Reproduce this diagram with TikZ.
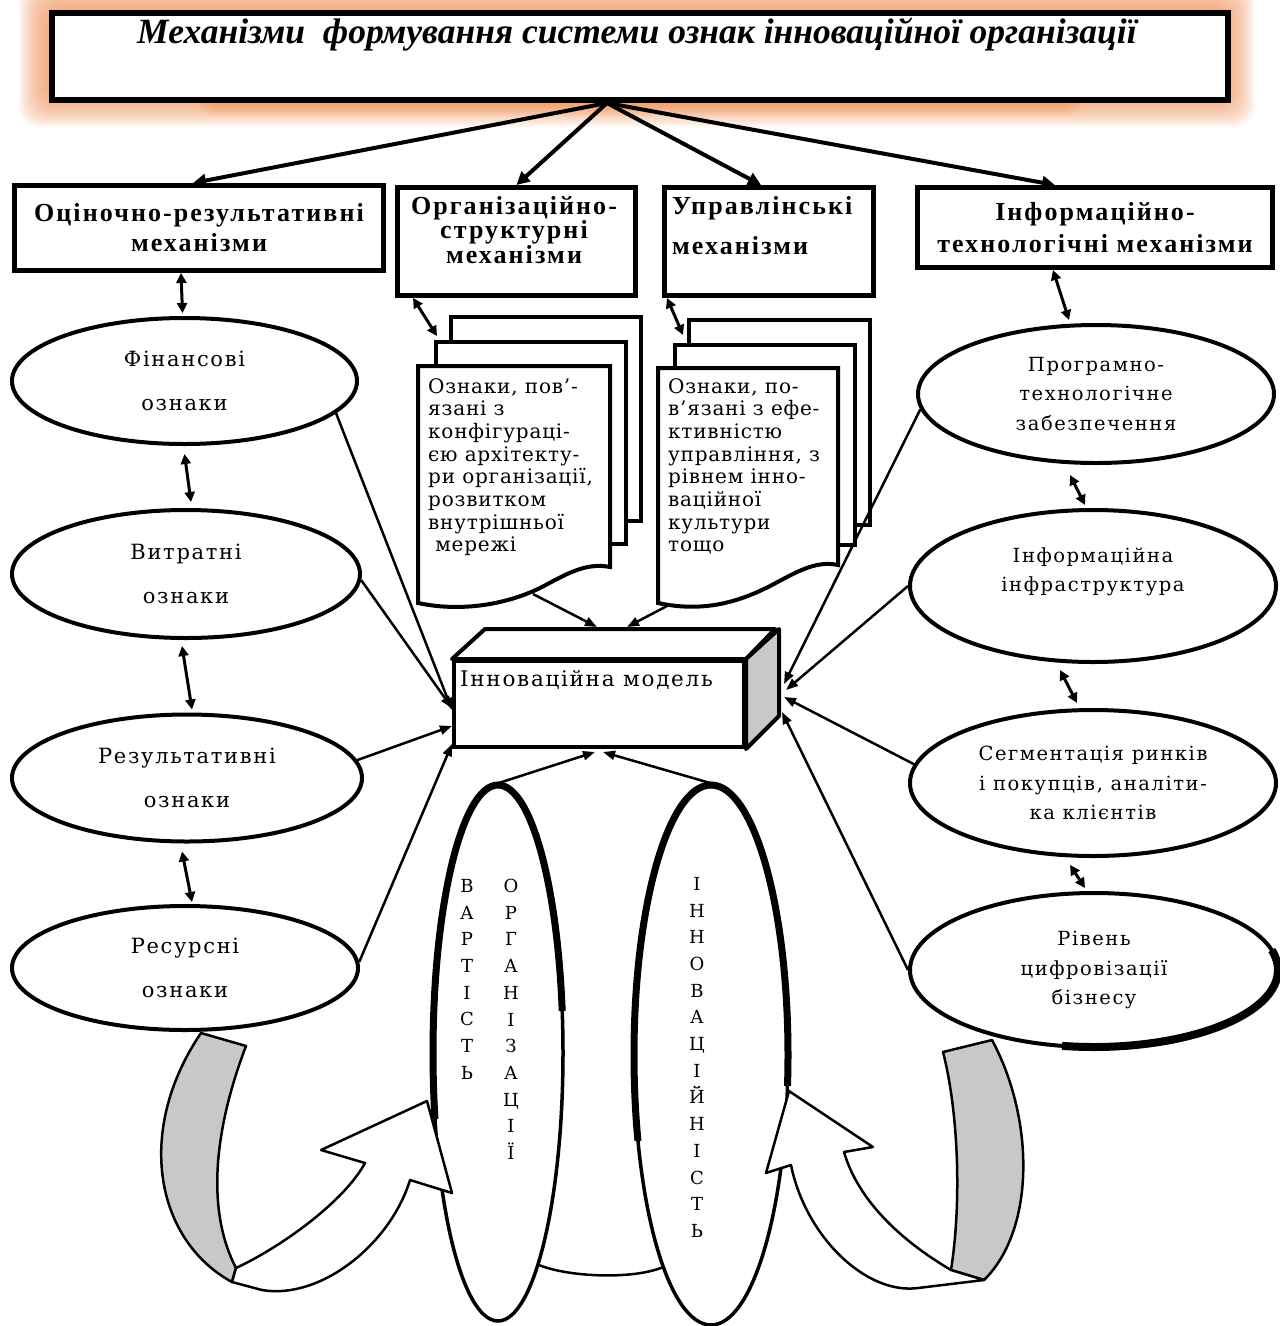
\documentclass[tikz,border=0pt]{standalone}
\usepackage{fontspec}
\setmainfont{Liberation Serif}
\newfontfamily\mechfont[LetterSpace=8]{Liberation Serif}
\newfontfamily\ovalfont[LetterSpace=8]{DejaVu Serif}
\newfontfamily\signfont[LetterSpace=4]{DejaVu Serif}
\usepackage{tikz}
\usepackage{xcolor}
\usetikzlibrary{shapes.geometric,arrows.meta}
\definecolor{glow}{RGB}{238,140,80}
\definecolor{ribbongray}{RGB}{200,200,200}

\begin{document}
\begin{tikzpicture}[x=1pt, y=-1pt,
	mechbox/.style={rectangle,
		draw=black,
		line width=5pt,
		fill=white,
		inner sep=0pt,
		anchor=north west,
		align=center,
		font=\mechfont\bfseries\fontsize{26}{#1}\selectfont},
	mechtext/.style={inner sep=0pt, font=\mechfont\bfseries\fontsize{26}{#1}\selectfont},
	ovalL/.style={ellipse, draw=black, line width=4pt, fill=white, inner sep=0pt,
		align=center, font=\ovalfont\fontsize{21}{44}\selectfont},
	ovalR/.style={ellipse, draw=black, line width=4pt, fill=white, inner sep=0pt,
		align=center, font=\ovalfont\fontsize{19.5}{29.5}\selectfont},
	tallell/.style={ellipse, draw=black, line width=3.5pt, fill=white, inner sep=0pt},
	page/.style={rectangle, draw=black, line width=4pt, fill=white, inner sep=0pt, anchor=north west},
	pageline/.style={draw=black, line width=4pt, fill=white},
	signtext/.style={anchor=north west, inner sep=0pt, align=left,
		font=\signfont\fontsize{20}{22.7}\selectfont},
	vletters/.style={anchor=north, inner sep=0pt, align=center,
		font=\signfont\fontsize{18}{26.7}\selectfont},
	mecharrow/.style={line width=4pt, -{Triangle[length=13pt,width=13pt]}},
	dbl/.style={line width=3pt, {Triangle[length=10pt,width=10pt]}-{Triangle[length=10pt,width=10pt]}},
	tomodel/.style={line width=2.5pt, -{Triangle[length=12pt,width=9pt]}},
	ribbon/.style={draw=black, line width=2.5pt, line join=round}]

	\useasboundingbox (0,0) rectangle (1280,1326);

	% halo orange autour du titre
	\foreach \g in {2,4,...,30}
		\fill[glow, opacity=0.075, rounded corners=20pt] (49-\g,10-\g) rectangle (1225+\g,97+\g);
	\foreach \g in {2,4,...,16}
		\fill[glow, opacity=0.09, rounded corners=12pt] (215-\g,70) rectangle (1065+\g,100+\g);

	\node[rectangle,
		draw=black,
		line width=6pt,
		fill=white,
		inner sep=0pt,
		anchor=north west,
		minimum width=1176pt,
		minimum height=87pt] (title) at (49,10) {};
	\node[anchor=base, inner sep=0pt, font=\bfseries\itshape\fontsize{35.5}{40}\selectfont] (titletext) at (637,43) {Механізми\ \ формування системи ознак інноваційної організації};

	% les quatre mécanismes
	\node[mechbox=30, minimum width=369pt, minimum height=85pt] (mech1) at (12,183) {Оціночно-результативні\\механізми};
	\node[mechbox=23.5, minimum width=238pt, minimum height=108pt] (mech2) at (395,185) {};
	\node[mechtext=23.5, anchor=north, align=center] (mech2text) at (514,196) {Організаційно-\\структурні\\механізми};
	\node[mechbox=40, minimum width=209pt, minimum height=108pt] (mech3) at (662,185) {};
	\node[mechtext=40, anchor=north west, align=left] (mech3text) at (672,196) {Управлінські\\механізми};
	\node[mechbox=32, minimum width=355pt, minimum height=80pt] (mech4) at (915,185) {Інформаційно-\\технологічні механізми};

	\draw[mecharrow] ([xshift=-33pt]title.south) -- ([xshift=-6pt]mech1.north);
	\draw[mecharrow] ([xshift=-33pt]title.south) -- (mech2.north);
	\draw[mecharrow] ([xshift=-33pt]title.south) -- ([xshift=-8pt]mech3.north);
	\draw[mecharrow] ([xshift=-33pt]title.south) -- ([xshift=-40pt]mech4.north);

	% piles de documents
	\node[page, minimum width=190pt, minimum height=204pt] (docLc) at (449,315) {};
	\node[page, minimum width=190pt, minimum height=202pt] (docLb) at (434,340) {};
	\draw[pageline] (418,366) -- (610,366) -- (610,567) .. controls (585,562) and (565,575) .. (540,588)
		.. controls (505,605) and (460,612) .. (418,603) -- cycle;
	\node[signtext] (docL) at (428,378) {Ознаки, пов’-\\язані з\\конфігураці-\\єю архітекту-\\ри організації,\\розвитком\\внутрішньої\\\ мережі};
	\coordinate (docLfoot) at (533,594);

	\node[page, minimum width=181pt, minimum height=205pt] (docRc) at (687,318) {};
	\node[page, minimum width=180pt, minimum height=200pt] (docRb) at (673,343) {};
	\draw[pageline] (658,368) -- (838,368) -- (838,565) .. controls (815,560) and (795,573) .. (770,586)
		.. controls (735,604) and (700,612) .. (658,603) -- cycle;
	\node[signtext] (docR) at (668,378) {Ознаки, по-\\в’язані з ефе-\\ктивністю\\управління, з\\рівнем інно-\\ваційної\\культури\\тощо};
	\coordinate (docRfoot) at (667,606);

	\draw[dbl] ([xshift=18pt]mech2.south west) -- ([xshift=3pt,yshift=4pt]docLb.north west);
	\draw[dbl] ([xshift=5pt]mech3.south west) -- ([xshift=10pt,yshift=8pt]docRb.north west);

	% ellipses de gauche
	\node[ovalL, minimum width=345pt, minimum height=126pt] (fin) at (184.5,381) {Фінансові\\ознаки};
	\node[ovalL, minimum width=348pt, minimum height=128pt] (vit) at (186,574) {Витратні\\ознаки};
	\node[ovalL, minimum width=350pt, minimum height=127pt] (rez) at (187,778) {Результативні\\ознаки};
	\node[ovalL, minimum width=346pt, minimum height=124pt] (res) at (185,968) {Ресурсні\\ознаки};

	\draw[dbl] ([xshift=-18pt]mech1.south) -- ([xshift=-2pt,yshift=3pt]fin.north);
	\draw[dbl] ([yshift=-8pt]fin.south) -- ([xshift=5pt,yshift=6pt]vit.north);
	\draw[dbl] ([xshift=-4pt,yshift=-6pt]vit.south) -- ([xshift=5pt,yshift=3pt]rez.north);
	\draw[dbl] ([xshift=-5pt,yshift=-8pt]rez.south) -- ([xshift=7pt,yshift=2pt]res.north);

	% ellipses de droite
	\node[ovalR, minimum width=356pt, minimum height=138pt] (prog) at (1096,394) {Програмно-\\технологічне\\забезпечення};
	\node[ovalR, minimum width=366pt, minimum height=152pt] (inf) at (1093,586) {};
	\node[anchor=north, inner sep=0pt, align=center, font=\ovalfont\fontsize{19.5}{29.5}\selectfont] (inftext) at (1093,547) {Інформаційна\\інфраструктура};
	\node[ovalR, minimum width=366pt, minimum height=146pt] (seg) at (1093,783) {Сегментація ринків\\і покупців, аналіти-\\ка клієнтів};
	\node[ovalR, minimum width=368pt, minimum height=154pt] (riv) at (1094,970) {Рівень\\цифровізації\\бізнесу};
	\draw[line width=8pt] (1094,970) ++(-15:184 and 77) arc (-15:100:184 and 77);

	\draw[dbl] ([xshift=-42pt]mech4.south) -- ([xshift=-27pt,yshift=3pt]prog.north);
	\draw[dbl] ([xshift=-26pt,yshift=-10pt]prog.south) -- ([xshift=-8pt,yshift=3pt]inf.north);
	\draw[dbl] ([xshift=-33pt,yshift=-6pt]inf.south) -- ([xshift=-16pt,yshift=5pt]seg.north);
	\draw[dbl] ([xshift=-23pt,yshift=-7pt]seg.south) -- ([xshift=-9pt,yshift=3pt]riv.north);

	% modèle (boîte 3D)
	\node[rectangle, draw=black, line width=4pt, fill=white, inner sep=0pt, anchor=north west,
		minimum width=290pt, minimum height=86pt] (model) at (452,659) {};
	\draw[line width=4pt, fill=white, line join=round] (model.north west) -- ++(33,-30) -- ++(290,0) -- (model.north east) -- cycle;
	\draw[line width=4pt, fill=ribbongray, line join=round] (model.north east) -- ++(33,-30) -- ++(0,87) -- (model.south east) -- cycle;
	\node[anchor=north west, inner sep=0pt, font=\ovalfont\fontsize{21.5}{24}\selectfont] (modeltext) at ([xshift=8pt,yshift=-11pt]model.north west) {Інноваційна модель};

	\draw[tomodel] (fin.-12) -- ([yshift=-6pt]model.west);
	\draw[tomodel] (vit.-2) -- ([yshift=-4pt]model.west);
	\draw[tomodel] (rez.6) -- ([yshift=-22pt]model.west);
	\draw[tomodel] (res.2) -- ([yshift=-40pt]model.west);
	\draw[tomodel] (prog.185) -- ([xshift=38pt,yshift=20pt]model.east);
	\draw[tomodel] (inf.west) -- ([xshift=40pt,yshift=14pt]model.east);
	\draw[tomodel] (seg.174) -- ([xshift=38pt,yshift=7pt]model.east);
	\draw[tomodel] (riv.west) -- ([xshift=36pt,yshift=-8pt]model.east);
	\draw[tomodel] (docLfoot) -- ([xshift=-2pt,yshift=32pt]model.north);
	\draw[tomodel] (docRfoot) -- ([xshift=28pt,yshift=32pt]model.north);

	% deux ellipses verticales
	\node[tallell, minimum width=130pt, minimum height=536pt] (vart) at (498,1053) {};
	\node[tallell, minimum width=154pt, minimum height=540pt] (inn) at (711,1055) {};
	\draw[line width=2.5pt] (vart.-79) .. controls +(30,12) and +(-30,12) .. (inn.-103);
	% bords épaissis
	\begin{scope}
		\clip (400,780) rectangle (498,1118);
		\draw[line width=7pt] (vart.center) ellipse [x radius=65pt, y radius=268pt];
	\end{scope}
	\begin{scope}
		\clip (498,780) rectangle (600,1010);
		\draw[line width=7pt] (vart.center) ellipse [x radius=65pt, y radius=268pt];
	\end{scope}
	\begin{scope}
		\clip (600,780) rectangle (711,1140);
		\draw[line width=7pt] (inn.center) ellipse [x radius=77pt, y radius=270pt];
	\end{scope}
	\begin{scope}
		\clip (711,780) rectangle (820,1085);
		\draw[line width=7pt] (inn.center) ellipse [x radius=77pt, y radius=270pt];
	\end{scope}

	\node[vletters] (vartword) at (467,879) {В\\А\\Р\\Т\\І\\С\\Т\\Ь};
	\node[vletters] (orgword) at (511,879) {О\\Р\\Г\\А\\Н\\І\\З\\А\\Ц\\І\\Ї};
	\node[vletters] (innword) at (697,877) {І\\Н\\Н\\О\\В\\А\\Ц\\І\\Й\\Н\\І\\С\\Т\\Ь};

	\draw[tomodel] (vart.north) -- ([xshift=-4pt,yshift=-3pt]model.south);
	\draw[tomodel] (inn.north) -- ([xshift=4pt,yshift=-3pt]model.south);

	% flèches courbes en bas
	\filldraw[ribbon, fill=ribbongray] (201,1033) -- (246,1046) .. controls (214,1130) and (206,1210) .. (236,1268)
		-- (232,1282) .. controls (155,1240) and (135,1130) .. (201,1033) -- cycle;
	\filldraw[ribbon, fill=white] (236,1268) .. controls (285,1245) and (345,1200) .. (365,1163)
		-- (321,1150) -- (427,1101) -- (452,1193) -- (410,1180)
		.. controls (390,1245) and (320,1300) .. (262,1290) -- (232,1282) -- cycle;

	\filldraw[ribbon, fill=ribbongray] (943,1052) -- (992,1040) .. controls (1035,1120) and (1035,1230) .. (984,1280)
		-- (951,1270) .. controls (962,1200) and (958,1110) .. (943,1052) -- cycle;
	\filldraw[ribbon, fill=white] (951,1270) .. controls (900,1240) and (858,1200) .. (844,1152)
		-- (873,1147) -- (789,1091) -- (766,1173) -- (791,1165)
		.. controls (805,1235) and (865,1295) .. (918,1288) -- (984,1280) -- cycle;
\end{tikzpicture}
\end{document}
